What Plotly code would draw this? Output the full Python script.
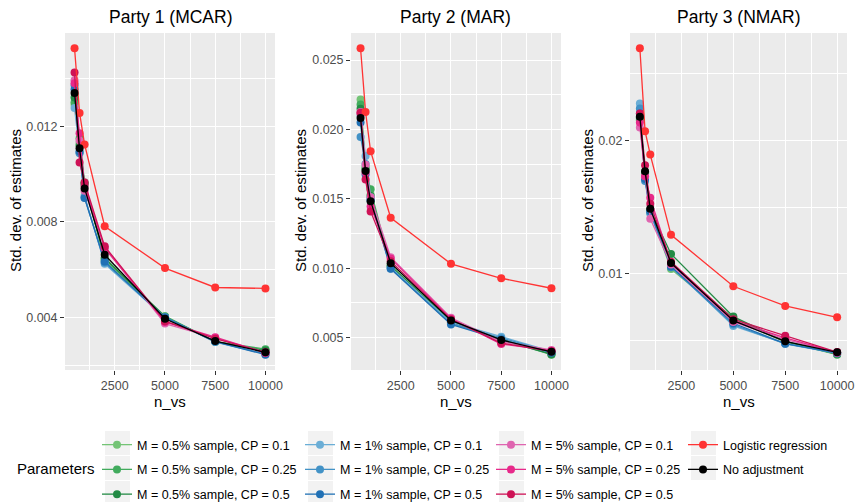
import plotly.graph_objects as go

# n_vs values on the x axis
n_vs = [500, 750, 1000, 2000, 5000, 7500, 10000]

series = ["M = 0.5% sample, CP = 0.1", "M = 0.5% sample, CP = 0.25", "M = 0.5% sample, CP = 0.5",
          "M = 1% sample, CP = 0.1", "M = 1% sample, CP = 0.25", "M = 1% sample, CP = 0.5",
          "M = 5% sample, CP = 0.1", "M = 5% sample, CP = 0.25", "M = 5% sample, CP = 0.5",
          "Logistic regression", "No adjustment"]
colors = ["#74C476", "#41AB5D", "#238B45",
          "#6BAED6", "#4292C6", "#2171B5",
          "#DF65B0", "#E7298A", "#CE1256",
          "#FF3333", "#000000"]

# std dev of estimates, party 1 (MCAR)
party1 = {
    "M = 0.5% sample, CP = 0.1":  [0.01290, 0.01130, 0.00955, 0.00640, 0.00405, 0.00298, 0.00265],
    "M = 0.5% sample, CP = 0.25": [0.01300, 0.01150, 0.00965, 0.00645, 0.00406, 0.00300, 0.00268],
    "M = 0.5% sample, CP = 0.5":  [0.01320, 0.01120, 0.00960, 0.00650, 0.00402, 0.00300, 0.00262],
    "M = 1% sample, CP = 0.1":    [0.01276, 0.01090, 0.00910, 0.00625, 0.00400, 0.00298, 0.00247],
    "M = 1% sample, CP = 0.25":   [0.01372, 0.01087, 0.00902, 0.00630, 0.00402, 0.00300, 0.00248],
    "M = 1% sample, CP = 0.5":    [0.01355, 0.01095, 0.00900, 0.00635, 0.00400, 0.00300, 0.00245],
    "M = 5% sample, CP = 0.1":    [0.01393, 0.01141, 0.00930, 0.00695, 0.00375, 0.00315, 0.00255],
    "M = 5% sample, CP = 0.25":   [0.01380, 0.01171, 0.00950, 0.00690, 0.00382, 0.00318, 0.00252],
    "M = 5% sample, CP = 0.5":    [0.01425, 0.01049, 0.00965, 0.00698, 0.00385, 0.00312, 0.00255],
    "Logistic regression":        [0.01526, 0.01256, 0.01124, 0.00782, 0.00607, 0.00526, 0.00522],
    "No adjustment":              [0.01339, 0.01108, 0.00940, 0.00663, 0.00395, 0.00302, 0.00255],
}

# party 2 (MAR)
party2 = {
    "M = 0.5% sample, CP = 0.1":  [0.02216, 0.01730, 0.01530, 0.01020, 0.00620, 0.00490, 0.00380],
    "M = 0.5% sample, CP = 0.25": [0.02180, 0.01720, 0.01568, 0.01010, 0.00615, 0.00485, 0.00376],
    "M = 0.5% sample, CP = 0.5":  [0.02150, 0.01710, 0.01520, 0.01015, 0.00610, 0.00480, 0.00380],
    "M = 1% sample, CP = 0.1":    [0.02100, 0.01809, 0.01512, 0.01005, 0.00610, 0.00506, 0.00400],
    "M = 1% sample, CP = 0.25":   [0.01946, 0.01750, 0.01500, 0.00998, 0.00600, 0.00495, 0.00395],
    "M = 1% sample, CP = 0.5":    [0.02050, 0.01676, 0.01490, 0.00995, 0.00594, 0.00485, 0.00390],
    "M = 5% sample, CP = 0.1":    [0.02126, 0.01746, 0.01512, 0.01079, 0.00642, 0.00470, 0.00410],
    "M = 5% sample, CP = 0.25":   [0.02115, 0.01690, 0.01445, 0.01070, 0.00635, 0.00453, 0.00405],
    "M = 5% sample, CP = 0.5":    [0.02120, 0.01640, 0.01409, 0.01050, 0.00630, 0.00460, 0.00400],
    "Logistic regression":        [0.02585, 0.02126, 0.01843, 0.01363, 0.01031, 0.00927, 0.00855],
    "No adjustment":              [0.02083, 0.01700, 0.01483, 0.01036, 0.00623, 0.00482, 0.00397],
}

# party 3 (NMAR)
party3 = {
    "M = 0.5% sample, CP = 0.1":  [0.02150, 0.01740, 0.01460, 0.01036, 0.00655, 0.00490, 0.00395],
    "M = 0.5% sample, CP = 0.25": [0.02160, 0.01750, 0.01470, 0.01050, 0.00670, 0.00492, 0.00397],
    "M = 0.5% sample, CP = 0.5":  [0.02170, 0.01760, 0.01480, 0.01149, 0.00680, 0.00495, 0.00400],
    "M = 1% sample, CP = 0.1":    [0.02275, 0.01720, 0.01450, 0.01060, 0.00610, 0.00480, 0.00405],
    "M = 1% sample, CP = 0.25":   [0.02238, 0.01695, 0.01460, 0.01050, 0.00620, 0.00475, 0.00405],
    "M = 1% sample, CP = 0.5":    [0.02200, 0.01710, 0.01470, 0.01055, 0.00630, 0.00478, 0.00408],
    "M = 5% sample, CP = 0.1":    [0.02095, 0.01730, 0.01412, 0.01070, 0.00640, 0.00510, 0.00410],
    "M = 5% sample, CP = 0.25":   [0.02133, 0.01730, 0.01570, 0.01080, 0.00650, 0.00520, 0.00412],
    "M = 5% sample, CP = 0.5":    [0.02200, 0.01812, 0.01525, 0.01090, 0.00660, 0.00537, 0.00415],
    "Logistic regression":        [0.02688, 0.02068, 0.01893, 0.01292, 0.00907, 0.00760, 0.00675],
    "No adjustment":              [0.02175, 0.01767, 0.01487, 0.01081, 0.00650, 0.00495, 0.00413],
}

titles = ["Party 1 (MCAR)", "Party 2 (MAR)", "Party 3 (NMAR)"]
x_ticks = [2500, 5000, 7500, 10000]
x_ticktext = ["2500", "5000", "7500", "10000"]
x_minor = [1250, 3750, 6250, 8750]
y_ticks = [[0.004, 0.008, 0.012], [0.005, 0.010, 0.015, 0.020, 0.025], [0.01, 0.02]]
y_ticktext = [["0.004", "0.008", "0.012"], ["0.005", "0.010", "0.015", "0.020", "0.025"], ["0.01", "0.02"]]
y_minor = [[0.002, 0.006, 0.010, 0.014], [0.0075, 0.0125, 0.0175, 0.0225], [0.005, 0.015, 0.025]]

W, H = 856, 502
FONT = "Liberation Sans, Arial, sans-serif"
panels_px = [(65, 275), (351, 561), (630, 847)]
top_px, bot_px = 33, 370

fig = go.Figure()
layout = {}
annots = []
for p, data in enumerate([party1, party2, party3]):
    sfx = "" if p == 0 else str(p + 1)
    for i, name in enumerate(series):
        col = i // 3 if i < 9 else 3
        fig.add_trace(go.Scatter(
            x=n_vs, y=data[name], name=name, mode="lines+markers",
            line=dict(color=colors[i], width=1.3),
            marker=dict(color=colors[i], size=8),
            xaxis="x" + sfx, yaxis="y" + sfx,
            legendgroup=name, showlegend=(p == 0),
            legend="legend" if col == 0 else "legend" + str(col + 1),
        ))
    allv = [v for k in data for v in data[k]]
    lo, hi = min(allv), max(allv)
    pad = (hi - lo) * 0.05
    x0, x1 = panels_px[p]
    layout["xaxis" + sfx] = dict(
        domain=[x0 / W, x1 / W], range=[500 - 475, 10000 + 475], anchor="y" + sfx,
        tickvals=x_ticks, ticktext=x_ticktext, ticks="outside", ticklen=4, tickcolor="#333333",
        tickfont=dict(size=12.5, color="#4D4D4D", family=FONT),
        showgrid=True, gridcolor="white", gridwidth=1.1, zeroline=False, showline=False,
        minor=dict(tickvals=x_minor, showgrid=True, gridcolor="white", gridwidth=0.55, ticks=""),
    )
    layout["yaxis" + sfx] = dict(
        domain=[1 - bot_px / H, 1 - top_px / H], range=[lo - pad, hi + pad], anchor="x" + sfx,
        tickvals=y_ticks[p], ticktext=y_ticktext[p], ticks="outside", ticklen=4, tickcolor="#333333",
        tickfont=dict(size=12.5, color="#4D4D4D", family=FONT),
        showgrid=True, gridcolor="white", gridwidth=1.1, zeroline=False, showline=False,
        minor=dict(tickvals=y_minor[p], showgrid=True, gridcolor="white", gridwidth=0.55, ticks=""),
    )
    cx = (x0 + x1) / 2 / W
    annots.append(dict(text=titles[p], x=cx, y=1 - 17 / H, xref="paper", yref="paper",
                       xanchor="center", yanchor="middle",
                       showarrow=False, font=dict(size=17.5, color="black", family=FONT)))
    annots.append(dict(text="n_vs", x=cx, y=1 - 401 / H, xref="paper", yref="paper",
                       xanchor="center", yanchor="middle",
                       showarrow=False, font=dict(size=15, color="black", family=FONT)))
    ylab_x = [15, 300, 587][p]
    annots.append(dict(text="Std. dev. of estimates", x=ylab_x / W, y=1 - 201 / H, xref="paper", yref="paper",
                       xanchor="center", yanchor="middle",
                       textangle=-90, showarrow=False, font=dict(size=15, color="black", family=FONT)))

annots.append(dict(text="Parameters", x=15 / W, y=1 - 468 / H, xref="paper", yref="paper",
                   xanchor="left", yanchor="middle",
                   showarrow=False, font=dict(size=15, color="black", family=FONT)))

# legend columns
leg_x = [97, 300, 491, 683]
for c in range(4):
    key = "legend" if c == 0 else "legend" + str(c + 1)
    layout[key] = dict(x=leg_x[c] / W, y=1 - 430 / H, xanchor="left", yanchor="top",
                       orientation="v", bgcolor="rgba(0,0,0,0)", tracegroupgap=5.5,
                       font=dict(size=12.5, color="black", family=FONT), itemclick=False)

# grey key backgrounds
shapes = []
key_x = [105, 308, 499, 691]
for c in range(4):
    nrow = 2 if c == 3 else 3
    for r in range(nrow):
        y0 = 431 + r * 25
        shapes.append(dict(type="rect", xref="paper", yref="paper", layer="below",
                           x0=key_x[c] / W, x1=(key_x[c] + 25) / W,
                           y0=1 - (y0 + 24) / H, y1=1 - y0 / H,
                           fillcolor="#F2F2F2", line=dict(width=0)))
# panel backgrounds
for x0, x1 in panels_px:
    shapes.append(dict(type="rect", xref="paper", yref="paper", layer="below",
                       x0=x0 / W, x1=x1 / W, y0=1 - bot_px / H, y1=1 - top_px / H,
                       fillcolor="#EBEBEB", line=dict(width=0)))

fig.update_layout(**layout)
fig.update_layout(width=W, height=H, margin=dict(l=0, r=0, t=0, b=0, autoexpand=False),
                  paper_bgcolor="white", plot_bgcolor="rgba(0,0,0,0)",
                  annotations=annots, shapes=shapes, font=dict(family=FONT))
fig.write_html("out.html", config={"displayModeBar": False},
               post_script="document.body.style.margin='0';")
